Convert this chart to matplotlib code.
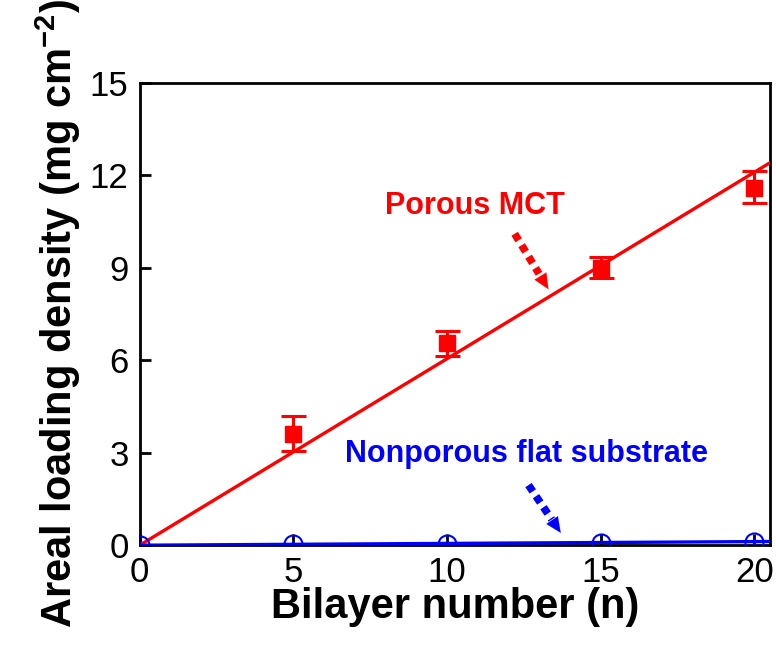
import matplotlib
matplotlib.use('Agg')
import matplotlib.pyplot as plt
import numpy as np

# -------------------- DATA --------------------
bilayers = [5, 10, 15, 20]
mct_load = [3.6, 6.55, 9.0, 11.6]
mct_err_lo = [0.55, 0.4, 0.35, 0.5]
mct_err_hi = [0.6, 0.4, 0.35, 0.55]
mct_fit = [0.0, 12.4]
fit_x = [0, 20.5]

flat_n = [0, 5, 10, 15, 20]
flat_load = [0.0, 0.03, 0.05, 0.08, 0.12]
flat_err = [0.1, 0.12, 0.1, 0.0, 0.12]
flat_fit = [0.0, 0.12]

plt.rcParams['font.family'] = ['Liberation Sans', 'DejaVu Sans']
plt.rcParams['mathtext.fontset'] = 'custom'
plt.rcParams['mathtext.bf'] = 'Liberation Sans:bold'
plt.rcParams['mathtext.rm'] = 'Liberation Sans'

fig = plt.figure(figsize=(7.76, 6.46), dpi=100)
ax = fig.add_axes([0.180, 0.156, 0.812, 0.716])

# fitted lines
ax.plot(fit_x, mct_fit, color='red', lw=2.4, zorder=3)
ax.plot(fit_x, flat_fit, color='blue', lw=2.4, zorder=3)

# data points
ax.errorbar(bilayers, mct_load, yerr=[mct_err_lo, mct_err_hi], fmt='s', color='red',
            ms=11, elinewidth=2.2, capsize=9, capthick=2.2, zorder=4)
ax.errorbar(flat_n, flat_load, yerr=flat_err, fmt='o', color='blue', mfc='none',
            ms=13, mew=1.5, elinewidth=1.5, capsize=0, zorder=4)


def dotted_arrow(start, tip, color):
    # dotted shaft + solid head
    sx, sy = start
    tx, ty = tip
    bx, by = sx + 0.72 * (tx - sx), sy + 0.72 * (ty - sy)
    ax.annotate('', xy=(bx, by), xytext=(sx, sy),
                arrowprops=dict(arrowstyle='-', color=color, lw=5.5, capstyle='butt',
                                linestyle=(0, (1.0, 0.75)), shrinkA=0, shrinkB=0))
    hx, hy = sx + 0.6 * (tx - sx), sy + 0.6 * (ty - sy)
    ax.annotate('', xy=(tx, ty), xytext=(hx, hy),
                arrowprops=dict(arrowstyle='-|>,head_length=1.1,head_width=0.5', color=color,
                                lw=0.1, shrinkA=0, shrinkB=0))


# annotations
ax.text(10.9, 11.0, 'Porous MCT', color='red', fontsize=22, fontweight='bold',
        ha='center', va='center')
dotted_arrow((12.2, 10.1), (13.3, 8.3), 'red')
ax.text(12.6, 2.95, 'Nonporous flat substrate', color='blue', fontsize=22,
        fontweight='bold', ha='center', va='center')
dotted_arrow((12.65, 1.95), (13.7, 0.4), 'blue')

ax.set_xlim(0, 20.5)
ax.set_ylim(0, 15)
ax.set_xticks([0, 5, 10, 15, 20])
ax.set_yticks([0, 3, 6, 9, 12, 15])
ax.tick_params(direction='in', length=8, width=2, labelsize=25, top=False, right=False, pad=8)
for s in ax.spines.values():
    s.set_linewidth(2)

ax.set_xlabel('Bilayer number (n)', fontsize=30, fontweight='bold', labelpad=-2)
ax.set_ylabel('Areal loading density (mg cm$^{\\mathbf{-2}}$)', fontsize=30,
              fontweight='bold', labelpad=5)

fig.savefig('out.png', dpi=100)
